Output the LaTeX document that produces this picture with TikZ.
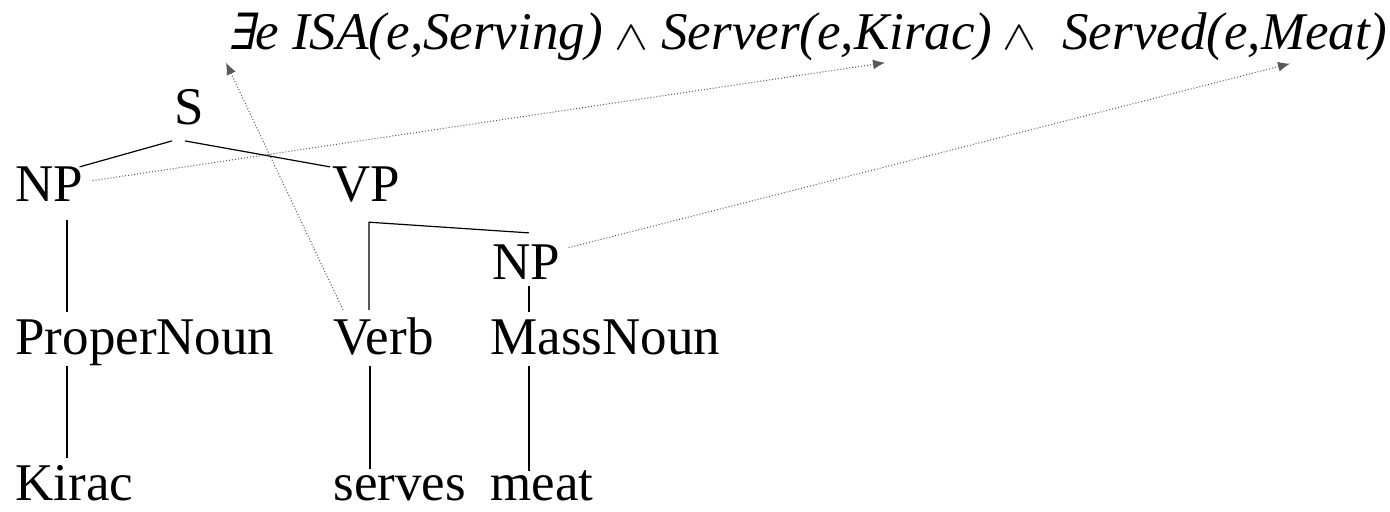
\documentclass[tikz,border=0pt]{standalone}
\usepackage{fontspec}
\usepackage{graphicx}
\setmainfont{Liberation Serif}[ItalicFont={Liberation Serif Italic}]
\newfontfamily\logicslant[FakeSlant=0.2]{DejaVu Serif}
\usetikzlibrary{arrows.meta}
\newcommand{\lexists}{{\upshape\logicslant\fontsize{25}{30}\selectfont ∃}}
\newcommand{\logand}{\resizebox{17pt}{11.5pt}{$\wedge$}}
\newcommand{\termbox}[2]{\makebox[#1][l]{#2}}
\tikzset{
  every node/.style={anchor=base west, inner sep=0pt, font=\fontsize{26.5}{30}\selectfont},
  branch/.style={line width=0.6pt},
  link/.style={densely dotted, line width=0.5pt, black!65, -{Latex[length=6pt,width=5pt]}}
}

\begin{document}
\begin{tikzpicture}[x=0.5pt,y=-0.5pt]
\useasboundingbox (0,0) rectangle (1390,512);

% meaning representation
\draw (228,50) node (form) [font=\fontsize{26.5}{30}\selectfont\itshape]
  {\termbox{193pt}{\lexists e ISA(e,Serving)}\termbox{23.5pt}{\logand}%
   \termbox{170.5pt}{Server(e,Kirac)}\termbox{30pt}{\logand}Served(e,Meat)};

% parse tree
\draw (174,125) node (s)      {S};
\draw (15,202)  node (np1)    {NP};
\draw (332,202) node (vp)     {VP};
\draw (492,280) node (np2)    {NP};
\draw (15,355)  node (pn)     {ProperNoun};
\draw (333,355) node (verb)   {Verb};
\draw (490,355) node (mn)     {MassNoun};
\draw (15,500)  node (kirac)  {Kirac};
\draw (333,500) node (serves) {serves};
\draw (490,500) node (meat)   {meat};

\draw[branch] ([shift={(-2,15)}]s.south west) -- ([shift={(-4,0)}]np1.north east);
\draw[branch] ([shift={(11,15)}]s.south west) -- ([shift={(-2,0)}]vp.north west);
\draw[branch] ([shift={(52,18)}]np1.south west) -- ([shift={(52,-8)}]pn.north west);
\draw[branch] ([shift={(52,-1)}]pn.south west) -- ([shift={(52,-7)}]kirac.north west);
\draw[branch] ([shift={(36,-8)}]verb.north west) -- ([shift={(37,19)}]vp.south west)
  -- ([shift={(37,-12)}]np2.north west);
\draw[branch] ([shift={(37,6)}]np2.south west) -- ([shift={(39,-8)}]mn.north west);
\draw[branch] ([shift={(37,10)}]verb.south west) -- ([shift={(37,-6)}]serves.north west);
\draw[branch] ([shift={(39,10)}]mn.south west) -- ([shift={(39,1)}]meat.north west);

% links to the formula
\draw[link] ([shift={(9,-4)}]np1.east) -- ([shift={(657,1)}]form.south west);
\draw[link] ([shift={(10,-8)}]verb.north west) -- ([shift={(-2,1)}]form.south west);
\draw[link] ([shift={(8,-15)}]np2.east) -- ([shift={(1062,2)}]form.south west);
\end{tikzpicture}
\end{document}
